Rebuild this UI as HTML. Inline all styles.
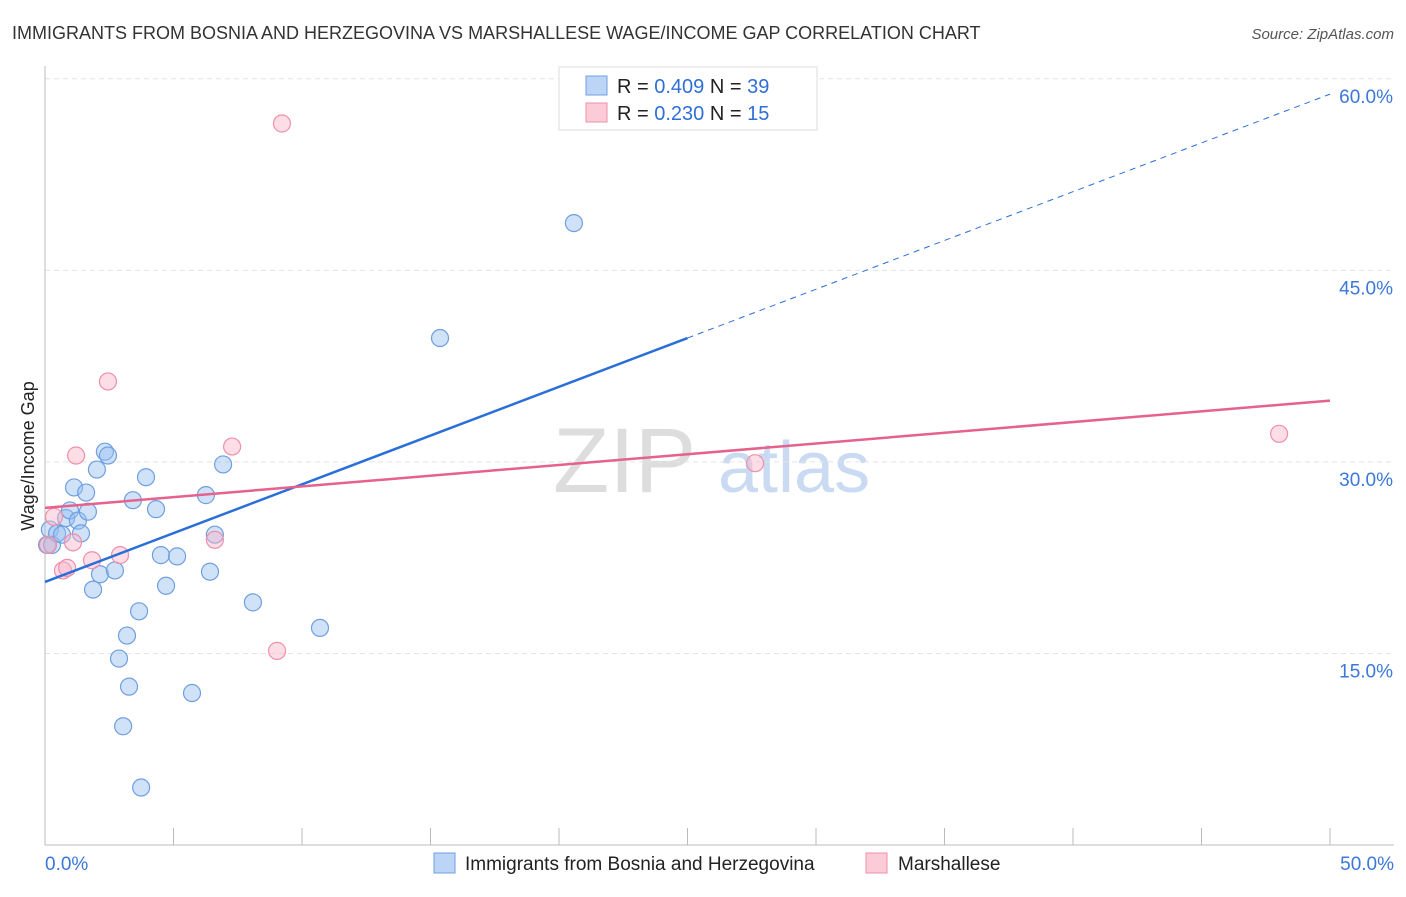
<!DOCTYPE html>
<html><head><meta charset="utf-8"><style>
body{margin:0;background:#fff;font-family:"Liberation Sans",sans-serif;}
svg text{font-family:"Liberation Sans",sans-serif;}
</style></head><body>
<svg id="chart" width="1406" height="892" xmlns="http://www.w3.org/2000/svg">
<text x="12" y="39" font-size="18" fill="#333">IMMIGRANTS FROM BOSNIA AND HERZEGOVINA VS MARSHALLESE WAGE/INCOME GAP CORRELATION CHART</text>
<text x="1394" y="39" font-size="15" fill="#555" font-style="italic" text-anchor="end">Source: ZipAtlas.com</text>
<text transform="translate(34,456) rotate(-90)" font-size="18" fill="#222" text-anchor="middle">Wage/Income Gap</text>
<g><text x="553" y="492" font-size="92" fill="#ddd" font-family="Liberation Serif">ZIP</text><text x="718" y="492" font-size="72" fill="#c9daf2">atlas</text></g>
<g id="grid"></g><g id="axes"></g><g id="pts"></g><g id="lines"></g>
<g>
<rect x="559" y="67" width="258" height="63" fill="#fff" stroke="#ddd"/>
<rect x="586" y="76" width="21" height="19" fill="#bcd4f6" stroke="#6f9fe0"/>
<rect x="586" y="103" width="21" height="19" fill="#fbcbd8" stroke="#ee8fab"/>
<text x="617" y="93" font-size="20" fill="#222">R = <tspan fill="#2f6fd6">0.409</tspan>   N = <tspan fill="#2f6fd6">39</tspan></text>
<text x="617" y="120" font-size="20" fill="#222">R = <tspan fill="#2f6fd6">0.230</tspan>   N = <tspan fill="#2f6fd6">15</tspan></text>
</g>
<g>
<rect x="434" y="853" width="21" height="20" fill="#bcd4f6" stroke="#6f9fe0"/>
<text x="465" y="870" font-size="19" fill="#222">Immigrants from Bosnia and Herzegovina</text>
<rect x="866" y="853" width="21" height="20" fill="#fbcbd8" stroke="#ee8fab"/>
<text x="898" y="870" font-size="19" fill="#222">Marshallese</text>
</g>
</svg>
<script>
const blueX=[0.08,0.19,0.27,0.47,0.66,0.82,0.97,1.13,1.28,1.40,1.60,1.67,1.87,2.02,2.14,2.33,2.45,2.72,2.88,3.04,3.19,3.27,3.42,3.66,3.74,3.93,4.32,4.51,4.71,5.14,5.72,6.26,6.42,6.61,6.93,8.09,10.70,15.37,20.58];
const blueY=[23.5,24.7,23.5,24.4,24.3,25.6,26.2,28.0,25.4,24.4,27.6,26.1,20.0,29.4,21.2,30.8,30.5,21.5,14.6,9.3,16.4,12.4,27.0,18.3,4.5,28.8,26.3,22.7,20.3,22.6,11.9,27.4,21.4,24.3,29.8,19.0,17.0,39.7,48.7];
const pinkX=[0.12,0.35,0.70,0.86,1.09,1.21,1.83,2.45,2.92,6.61,7.28,9.03,9.22,27.63,48.02];
const pinkY=[23.5,25.7,21.5,21.7,23.7,30.5,22.3,36.3,22.7,23.9,31.2,15.2,56.5,29.9,32.2];
const blueLine=[20.6,0.764]; // intercept, slope
const pinkLine=[26.4,0.168];
const yTicks=[15,30,45,60];
const xTickLabels=["0.0%","50.0%"];
const NS="http://www.w3.org/2000/svg";
const sx=v=>45+v*25.7, sy=v=>845-v*12.77;
function mk(tag,attrs,parent){const e=document.createElementNS(NS,tag);for(const k in attrs)e.setAttribute(k,attrs[k]);document.getElementById(parent).appendChild(e);return e;}
yTicks.forEach(t=>{
 const g=mk('line',{x1:45,x2:1394,y1:sy(t),y2:sy(t),stroke:'#e4e4e4','stroke-dasharray':'5,4'},'grid');
 
 
 const l=mk('text',{x:1393,y:sy(t)+24,'font-size':19,fill:'#3b78d8','text-anchor':'end'},'grid');
 l.textContent=t.toFixed(1)+'%';
 
 
});
let a=mk('line',{x1:45,x2:45,y1:66,y2:845,stroke:'#bbb'},'axes');


a=mk('line',{x1:45,x2:1394,y1:845,y2:845,stroke:'#bbb'},'axes');


for(let i=0;i<=10;i++){const t=mk('line',{x1:sx(i*5),x2:sx(i*5),y1:828,y2:845,stroke:'#bbb'},'axes');
 
 }
[[0,'start',45],[50,'end',1394]].forEach((d,i)=>{const t=mk('text',{x:d[2],y:870,'font-size':19,fill:'#3b78d8','text-anchor':d[1]},'axes');t.textContent=xTickLabels[i];
 
 });
blueX.forEach((x,i)=>{const c=mk('circle',{cx:sx(x),cy:sy(blueY[i]),r:8.5,fill:'rgba(150,190,240,0.45)',stroke:'#6f9fe0','stroke-width':1.2},'pts');
 
 });
pinkX.forEach((x,i)=>{const c=mk('circle',{cx:sx(x),cy:sy(pinkY[i]),r:8.5,fill:'rgba(250,180,200,0.45)',stroke:'#ee8fab','stroke-width':1.2},'pts');
 
 });
let l=mk('line',{x1:sx(0),y1:sy(blueLine[0]),x2:sx(25),y2:sy(blueLine[0]+25*blueLine[1]),stroke:'#2a6fd8','stroke-width':2.5},'lines');


l=mk('line',{x1:sx(25),y1:sy(blueLine[0]+25*blueLine[1]),x2:sx(50),y2:sy(blueLine[0]+50*blueLine[1]),stroke:'#2a6fd8','stroke-width':1,'stroke-dasharray':'6,5'},'lines');


l=mk('line',{x1:sx(0),y1:sy(pinkLine[0]),x2:sx(50),y2:sy(pinkLine[0]+50*pinkLine[1]),stroke:'#e4628c','stroke-width':2.5},'lines');


</script>
</body></html>
